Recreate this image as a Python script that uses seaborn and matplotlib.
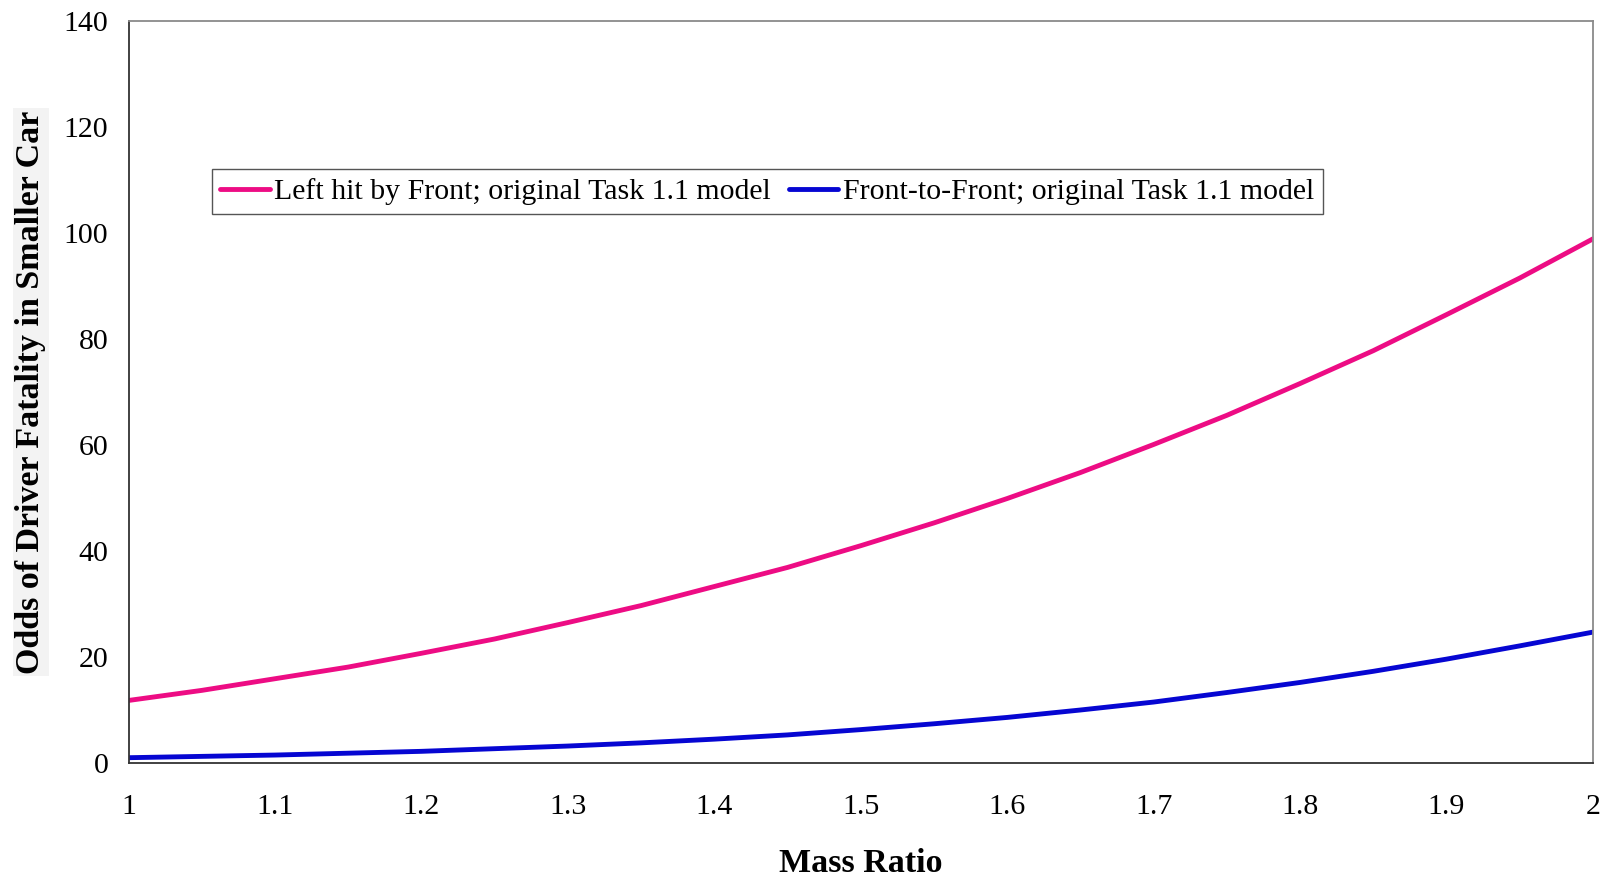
import matplotlib
matplotlib.use("Agg")
import matplotlib.pyplot as plt
import seaborn as sns
import pandas as pd
from matplotlib.lines import Line2D

mass_ratio = [1.0, 1.05, 1.1, 1.15, 1.2, 1.25, 1.3, 1.35, 1.4, 1.45, 1.5,
              1.55, 1.6, 1.65, 1.7, 1.75, 1.8, 1.85, 1.9, 1.95, 2.0]
left_hit = [11.8, 13.7, 15.9, 18.1, 20.7, 23.4, 26.5, 29.7, 33.3, 36.9, 41.0,
            45.3, 49.9, 54.8, 60.1, 65.6, 71.6, 77.8, 84.6, 91.5, 98.9]
front_front = [1.0, 1.25, 1.5, 1.85, 2.2, 2.7, 3.2, 3.8, 4.5, 5.3, 6.3,
               7.4, 8.6, 10.0, 11.5, 13.3, 15.2, 17.3, 19.6, 22.1, 24.7]
series_names = ["Left hit by Front; original Task 1.1 model",
                "Front-to-Front; original Task 1.1 model"]
series_colors = ["#ED0C84", "#0606D2"]
x_ticks = [1.0, 1.1, 1.2, 1.3, 1.4, 1.5, 1.6, 1.7, 1.8, 1.9, 2.0]
x_tick_labels = ["1", "1.1", "1.2", "1.3", "1.4", "1.5", "1.6", "1.7", "1.8", "1.9", "2"]
y_ticks = [0, 20, 40, 60, 80, 100, 120, 140]

df = pd.DataFrame({
    "Mass Ratio": mass_ratio * 2,
    "Odds": left_hit + front_front,
    "Series": [series_names[0]] * len(mass_ratio) + [series_names[1]] * len(mass_ratio),
})

sns.set_theme(style="white")
plt.rcParams["font.family"] = ["Liberation Serif", "DejaVu Serif"]
plt.rcParams["text.color"] = "black"
plt.rcParams["axes.labelcolor"] = "black"

W, H = 1610, 876
fig = plt.figure(figsize=(W / 100, H / 100), dpi=100)
ax = fig.add_axes([128.5 / W, (H - 763) / H, (1593 - 128.5) / W, (763 - 21) / H])

sns.lineplot(data=df, x="Mass Ratio", y="Odds", hue="Series",
             palette=dict(zip(series_names, series_colors)),
             linewidth=3.5, ax=ax, legend=False)

ax.set_xlim(1.0, 2.0)
ax.set_ylim(0, 140)
ax.set_xticks(x_ticks)
ax.set_xticklabels(x_tick_labels)
ax.set_yticks(y_ticks)
ax.tick_params(axis="both", direction="out", length=6.5, width=1.2,
               colors="#222222", labelsize=21.5, labelcolor="black")
ax.tick_params(axis="x", pad=16)
ax.tick_params(axis="y", pad=8)

for side in ["left", "bottom"]:
    ax.spines[side].set_color("#333333")
    ax.spines[side].set_linewidth(1.3)
for side in ["top", "right"]:
    ax.spines[side].set_color("#8a8a8a")
    ax.spines[side].set_linewidth(1.3)

ax.set_xlabel("Mass Ratio", fontsize=24.5, fontweight="bold", color="black")
ax.xaxis.set_label_coords(0.5, -0.114)
ax.set_ylabel("Odds of Driver Fatality in Smaller Car", fontsize=24.5, fontweight="bold",
              color="black", bbox=dict(facecolor="#f3f3f3", edgecolor="none", pad=2))
ax.yaxis.set_label_coords(-0.056, 0.5)

handles = [Line2D([0], [0], color=c, lw=3.5) for c in series_colors]
leg = fig.legend(handles, series_names, loc="upper left",
                 bbox_to_anchor=(211.5 / W, 1 - 169.5 / H), ncol=2,
                 fontsize=21.5, frameon=True, fancybox=False, framealpha=1,
                 edgecolor="#555555", handlelength=1.65, handletextpad=0.15,
                 columnspacing=0.6, borderpad=0.3, borderaxespad=0,
                 labelcolor="black")
leg.get_frame().set_linewidth(1.0)

fig.savefig("out.png", dpi=100)
